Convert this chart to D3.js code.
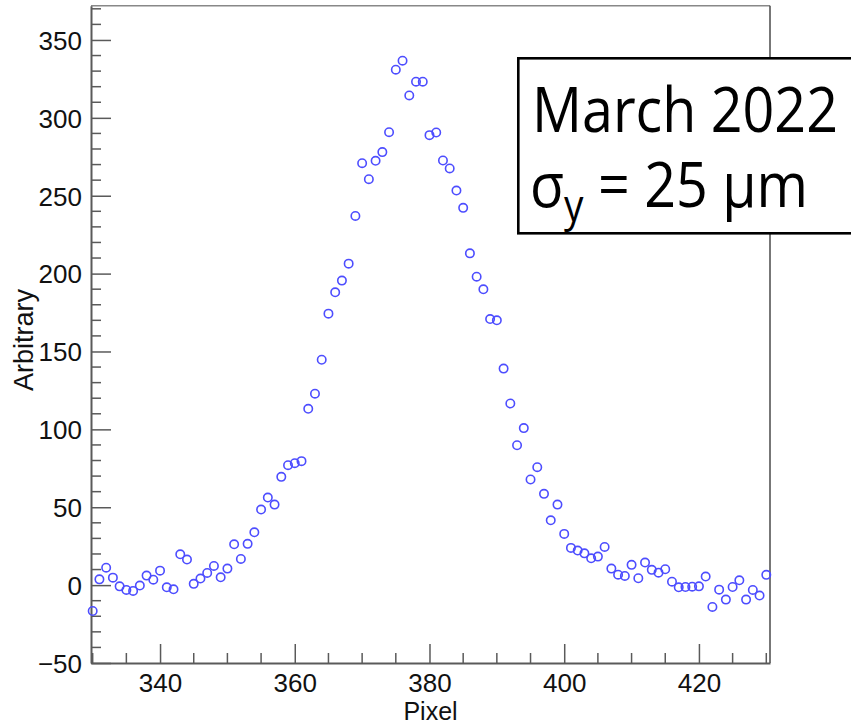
<!DOCTYPE html>
<html>
<head>
<meta charset="utf-8">
<script src="https://cdn.jsdelivr.net/npm/d3@7"></script>
<style>
  html, body { margin: 0; padding: 0; background: #fff; overflow: hidden; }
  svg { display: block; }
</style>
</head>
<body>
<svg id="chart" width="851" height="725"></svg>
<script>
// ---- data ----
const pixels = [330,331,332,333,334,335,336,337,338,339,340,341,342,343,344,345,346,347,348,349,
  350,351,352,353,354,355,356,357,358,359,360,361,362,363,364,365,366,367,368,369,
  370,371,372,373,374,375,376,377,378,379,380,381,382,383,384,385,386,387,388,389,
  390,391,392,393,394,395,396,397,398,399,400,401,402,403,404,405,406,407,408,409,
  410,411,412,413,414,415,416,417,418,419,420,421,422,423,424,425,426,427,428,429,430];
const values = [-16.6,3.7,11.2,4.8,-0.8,-3.1,-3.7,-0.3,6.1,3.5,9.3,-1.4,-2.7,19.8,16.4,0.8,4.2,7.8,12.3,5.0,
  10.6,26.2,16.8,26.5,33.9,48.5,56.2,51.7,69.5,77.0,78.3,79.6,113.2,122.9,144.7,174.3,188.0,195.5,206.4,237.0,
  270.9,260.6,272.4,278.0,290.8,330.9,336.7,314.4,323.2,323.2,288.9,290.6,272.6,267.5,253.3,242.2,213.0,198.0,189.9,170.8,
  170.0,139.0,116.6,89.8,100.8,67.8,75.7,58.6,41.6,51.7,32.9,23.9,22.2,20.4,17.2,18.3,24.5,10.6,6.7,5.9,
  13.0,4.4,14.5,9.8,8.0,10.2,2.2,-1.4,-1.2,-1.0,-0.8,5.5,-14.0,-2.9,-9.3,-1.2,3.1,-9.3,-3.1,-6.7,6.6];
const xMajorTicks = [340, 360, 380, 400, 420];
const yMajorTicks = [-50, 0, 50, 100, 150, 200, 250, 300, 350];
const xTitle = "Pixel";
const yTitle = "Arbitrary";
const boxLine1 = "March 2022";

// ---- layout ----
const L = 91, R = 770, T = 5.7, B = 663;
const svg = d3.select("#chart");
const x = d3.scaleLinear().domain([329.75, 430.55]).range([L, R]);
const y = d3.scaleLinear().domain([-50, 372]).range([B, T]);
const axisColor = "#5a5a5a";
const tickFont = "'Liberation Sans', Arial, sans-serif";

// frame (top/right)
svg.append("line").attr("x1", L).attr("x2", R).attr("y1", T).attr("y2", T)
  .attr("stroke", "#888").attr("stroke-width", 1.6);
svg.append("line").attr("x1", R).attr("x2", R).attr("y1", T).attr("y2", B)
  .attr("stroke", "#555").attr("stroke-width", 1.6);

// x axis
const xMinor = d3.range(330, 431, 5).filter(v => !xMajorTicks.includes(v));
const xAxis = d3.axisBottom(x).tickValues(xMajorTicks).tickSize(0).tickPadding(0).tickFormat(d3.format("d"));
const gx = svg.append("g").attr("transform", `translate(0,${B})`).call(xAxis);
gx.select(".domain").attr("stroke", axisColor).attr("stroke-width", 2);
gx.selectAll(".tick text").attr("font-family", tickFont).attr("font-size", 26)
  .attr("fill", "#111").attr("y", 29).attr("dy", 0);
gx.selectAll(".tick").append("line").attr("y1", 0).attr("y2", -19)
  .attr("stroke", axisColor).attr("stroke-width", 1.5);
gx.selectAll(".minor").data(xMinor).enter().append("line")
  .attr("x1", d => x(d)).attr("x2", d => x(d)).attr("y1", 0).attr("y2", -10)
  .attr("stroke", axisColor).attr("stroke-width", 1.5);

// y axis
const yMinor = d3.range(-50, 371, 10).filter(v => !yMajorTicks.includes(v));
const yAxis = d3.axisLeft(y).tickValues(yMajorTicks).tickSize(0).tickPadding(9)
  .tickFormat(d => d < 0 ? "\u2212" + Math.abs(d) : String(d));
const gy = svg.append("g").attr("transform", `translate(${L},0)`).call(yAxis);
gy.select(".domain").attr("stroke", axisColor).attr("stroke-width", 2);
gy.selectAll(".tick text").attr("font-family", tickFont).attr("font-size", 26)
  .attr("fill", "#111").attr("dy", "0.36em");
gy.selectAll(".tick").append("line").attr("x1", 0).attr("x2", 20)
  .attr("stroke", axisColor).attr("stroke-width", 1.5);
gy.selectAll(".minor").data(yMinor).enter().append("line")
  .attr("y1", d => y(d)).attr("y2", d => y(d)).attr("x1", 0).attr("x2", 10)
  .attr("stroke", axisColor).attr("stroke-width", 1.5);

// titles
svg.append("text").attr("x", (L + R) / 2).attr("y", 720).attr("text-anchor", "middle")
  .attr("font-family", tickFont).attr("font-size", 25).attr("fill", "#111").text(xTitle);
svg.append("text").attr("transform", `translate(33,340) rotate(-90)`).attr("text-anchor", "middle")
  .attr("font-family", tickFont).attr("font-size", 27).attr("fill", "#111").text(yTitle);

// markers
const pts = pixels.map((p, i) => ({ p, v: values[i] }));
svg.append("g").selectAll("circle").data(pts).enter().append("circle")
  .attr("cx", d => x(d.p)).attr("cy", d => y(d.v)).attr("r", 4.2)
  .attr("fill", "none").attr("stroke", "#4d4dff").attr("stroke-width", 1.6);

// label box
const box = svg.append("g");
box.append("rect").attr("x", 518.3).attr("y", 58.3).attr("width", 360).attr("height", 175)
  .attr("fill", "#fff").attr("stroke", "#000").attr("stroke-width", 2.6);
const boxFont = "'Open Sans', 'Noto Sans', sans-serif";
const t1 = box.append("text").attr("x", 0).attr("y", 0)
  .attr("font-family", boxFont).attr("font-size", 63).attr("fill", "#000").text(boxLine1);
const w1 = t1.node().getComputedTextLength();
const sx = 306 / w1;
t1.attr("transform", `translate(532,132) scale(${sx},1)`);
const t2 = box.append("text").attr("x", 0).attr("y", 0)
  .attr("font-family", boxFont).attr("font-size", 63).attr("fill", "#000");
t2.append("tspan").text("\u03C3");
t2.append("tspan").attr("font-size", 44).attr("dy", 14).text("y");
t2.append("tspan").attr("dy", -14).text(" = 25 \u03BCm");
t2.attr("transform", `translate(530,207) scale(${sx},1)`);
</script>
</body>
</html>
